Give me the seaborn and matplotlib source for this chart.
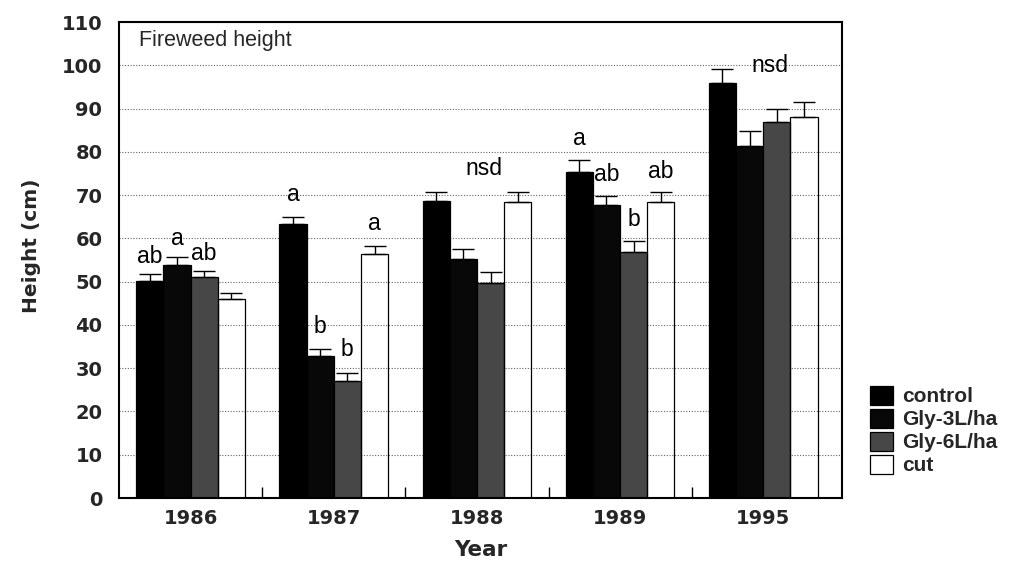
import numpy as np
import pandas as pd
import matplotlib
matplotlib.use("Agg")
import matplotlib.pyplot as plt
import seaborn as sns
from matplotlib.patches import Patch
from matplotlib.ticker import FixedLocator

# ---------------- data ----------------
years = ["1986", "1987", "1988", "1989", "1995"]
treatments = ["control", "Gly-3L/ha", "Gly-6L/ha", "cut"]

control = [50.1, 63.3, 68.6, 75.4, 95.8]
gly3 = [53.9, 32.7, 55.2, 67.7, 81.3]
gly6 = [51.0, 27.1, 49.8, 56.9, 86.9]
cut = [45.9, 56.4, 68.5, 68.3, 88.1]

control_se = [1.6, 1.7, 2.0, 2.7, 3.3]
gly3_se = [1.9, 1.8, 2.3, 2.1, 3.5]
gly6_se = [1.5, 1.9, 2.4, 2.6, 2.9]
cut_se = [1.4, 1.8, 2.1, 2.3, 3.4]

control_letters = ["ab", "a", "", "a", ""]
gly3_letters = ["a", "b", "", "ab", ""]
gly6_letters = ["ab", "b", "", "b", ""]
cut_letters = ["", "a", "", "ab", ""]
group_notes = ["", "", "nsd", "", "nsd"]

y_ticks = [0, 10, 20, 30, 40, 50, 60, 70, 80, 90, 100, 110]

# ---------------- build frame ----------------
values = [control, gly3, gly6, cut]
ses = [control_se, gly3_se, gly6_se, cut_se]
letters = [control_letters, gly3_letters, gly6_letters, cut_letters]
rows = []
for t, vals in zip(treatments, values):
    for y, v in zip(years, vals):
        rows.append({"Year": y, "Height": v, "Treatment": t})
df = pd.DataFrame(rows)

sns.set_theme(style="white")
plt.rcParams["font.family"] = ["Liberation Sans", "DejaVu Sans"]

colors = {"control": "#000000", "Gly-3L/ha": "#080808",
          "Gly-6L/ha": "#474747", "cut": "#ffffff"}

fig = plt.figure(figsize=(10.24, 5.69), dpi=100)
ax = fig.add_axes([119 / 1024, 1 - 498 / 569, 723 / 1024, 476 / 569])

ax.set_axisbelow(True)
ax.yaxis.grid(True, linestyle=(0, (1, 1.5)), color="#666666", linewidth=0.8)
ax.xaxis.grid(False)

sns.barplot(data=df, x="Year", y="Height", hue="Treatment",
            hue_order=treatments, order=years, palette=colors,
            saturation=1, width=0.76, errorbar=None,
            edgecolor="black", linewidth=0.9, legend=False, ax=ax)

# "cut" bars are open: grid shows through
for bar in ax.containers[3]:
    bar.set_facecolor((1, 1, 1, 0))

# error bars (upper only) and significance letters
label_gap = [2.6, 3.7, 3.5, 3.4, 3.5]
for cont, se_list, let_list in zip(ax.containers, ses, letters):
    for gi, (bar, se, let) in enumerate(zip(cont, se_list, let_list)):
        x = bar.get_x() + bar.get_width() / 2
        top = bar.get_height()
        ax.errorbar(x, top, yerr=[[0], [se]], fmt="none", ecolor="black",
                    elinewidth=1.0, capsize=8, capthick=1.0, zorder=4)
        if let:
            ax.text(x, top + se + label_gap[gi], let, ha="center",
                    va="baseline", fontsize=16.5, color="black", zorder=5)

note_y = {2: 74.6, 4: 98.4}
for i, note in enumerate(group_notes):
    if note:
        ax.text(i + 0.05, note_y[i], note, ha="center", va="baseline",
                fontsize=16.5, color="black", zorder=5)

ax.set_ylim(0, 110)
ax.set_xlim(-0.5, 4.55)
ax.yaxis.set_major_locator(FixedLocator(y_ticks))
ax.set_yticklabels([str(v) for v in y_ticks])
ax.xaxis.set_minor_locator(FixedLocator([0.5, 1.5, 2.5, 3.5]))

ax.tick_params(axis="y", which="major", length=0, pad=12)
ax.tick_params(axis="x", which="major", length=0, pad=8)
ax.tick_params(axis="x", which="minor", direction="in", length=8,
               width=1.0, color="black", bottom=True)
for lbl in ax.get_xticklabels() + ax.get_yticklabels():
    lbl.set_fontfamily("DejaVu Sans")
    lbl.set_fontweight("bold")
    lbl.set_fontsize(14)

for sp in ax.spines.values():
    sp.set_visible(True)
    sp.set_color("black")
    sp.set_linewidth(1.5)

ax.set_ylabel("Height (cm)", fontsize=14.5, fontweight="bold",
              fontfamily="DejaVu Sans")
ax.set_xlabel("Year", fontsize=15.5, fontweight="bold",
              fontfamily="DejaVu Sans")
ax.yaxis.set_label_coords(-0.108, 0.53)
ax.xaxis.set_label_coords(0.50, -0.088)

ax.text(0.027, 0.962, "Fireweed height", transform=ax.transAxes,
        ha="left", va="center", fontsize=15.5)

handles = [Patch(facecolor=colors[t], edgecolor="black", linewidth=0.9)
           for t in treatments]
fig.legend(handles, treatments, loc="upper left",
           bbox_to_anchor=(870 / 1024, 1 - 386 / 569), frameon=False,
           prop={"weight": "bold", "size": 15}, handlelength=1.1,
           handleheight=1.0, handletextpad=0.45, labelspacing=0.12,
           borderaxespad=0, borderpad=0)

fig.savefig("out.png", dpi=100)
